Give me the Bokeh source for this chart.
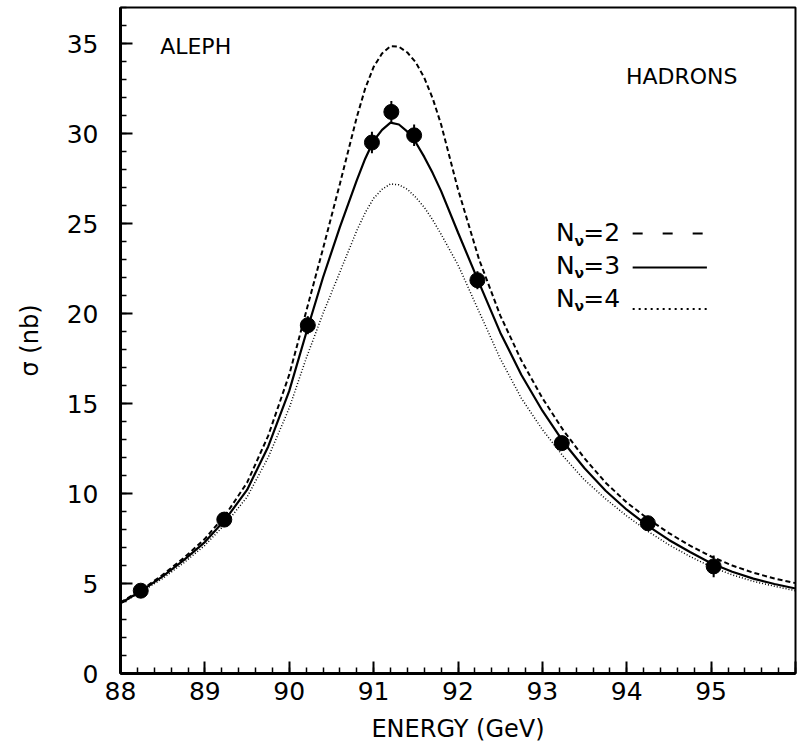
from bokeh.plotting import figure
from bokeh.models import Range1d, SingleIntervalTicker, Label
from bokeh.embed import file_html
from bokeh.resources import INLINE

# ---- data ----
energy = [88.0, 88.25, 88.5, 88.75, 89.0, 89.25, 89.5, 89.75, 90.0, 90.2, 90.4, 90.6,
          90.8, 90.9, 91.0, 91.1, 91.2, 91.3, 91.4, 91.5, 91.6, 91.7, 91.8, 92.0,
          92.25, 92.5, 92.75, 93.0, 93.25, 93.5, 93.75, 94.0, 94.25, 94.5, 94.75,
          95.0, 95.25, 95.5, 95.75, 96.0]

sigma_nu2 = [3.95, 4.65, 5.48, 6.42, 7.48, 8.85, 10.6, 13.2, 16.6, 20.1, 23.6, 27.2,
             30.9, 32.5, 33.7, 34.45, 34.85, 34.82, 34.5, 33.95, 33.1, 31.95, 30.5, 26.9,
             23.0, 19.9, 17.4, 15.3, 13.5, 11.95, 10.6, 9.5, 8.6, 7.8, 7.1,
             6.5, 6.0, 5.6, 5.28, 5.02]

sigma_nu3 = [3.9, 4.6, 5.4, 6.3, 7.3, 8.6, 10.2, 12.6, 15.7, 18.9, 22.0, 24.8,
             27.4, 28.6, 29.6, 30.2, 30.6, 30.5, 30.1, 29.5, 28.7, 27.8, 26.8, 24.5,
             21.7, 18.95, 16.6, 14.6, 12.85, 11.4, 10.15, 9.1, 8.2, 7.42, 6.75,
             6.12, 5.65, 5.27, 4.97, 4.72]

sigma_nu4 = [3.87, 4.55, 5.28, 6.15, 7.12, 8.35, 9.8, 12.0, 14.75, 17.5, 20.0, 22.3,
             24.6, 25.6, 26.4, 26.9, 27.2, 27.15, 26.9, 26.45, 25.9, 25.2, 24.4, 22.7,
             20.1, 17.5, 15.3, 13.55, 12.05, 10.75, 9.7, 8.75, 7.9, 7.15, 6.5,
             5.93, 5.48, 5.12, 4.85, 4.6]

pt_energy = [88.24, 89.23, 90.22, 90.98, 91.21, 91.48, 92.23, 93.23, 94.25, 95.03]
pt_sigma = [4.6, 8.55, 19.35, 29.5, 31.2, 29.9, 21.85, 12.8, 8.35, 5.95]
pt_err = [0.3, 0.35, 0.5, 0.6, 0.6, 0.6, 0.5, 0.4, 0.4, 0.6]

legend_labels = ["2", "3", "4"]

FONT = "DejaVu Sans"

p = figure(width=807, height=752, output_backend="svg", toolbar_location=None,
           x_range=Range1d(88, 96), y_range=Range1d(0, 37),
           min_border_left=120, min_border_right=12, min_border_top=7, min_border_bottom=79)
p.background_fill_color = "white"
p.border_fill_color = "white"
p.outline_line_color = "black"
p.outline_line_width = 2
p.xgrid.visible = False
p.ygrid.visible = False

# curves
p.line(energy, sigma_nu2, line_color="black", line_width=2, line_dash="5 3")
p.line(energy, sigma_nu3, line_color="black", line_width=2.2)
p.line(energy, sigma_nu4, line_color="black", line_width=1.5, line_dash="1 2")

# data points with error bars
p.segment(x0=pt_energy, y0=[s - e for s, e in zip(pt_sigma, pt_err)],
          x1=pt_energy, y1=[s + e for s, e in zip(pt_sigma, pt_err)],
          line_color="black", line_width=2)
p.scatter(pt_energy, pt_sigma, size=15, color="black")

# axes
for ax in (p.xaxis[0], p.yaxis[0]):
    ax.axis_line_width = 3
    ax.major_tick_in = 12
    ax.major_tick_out = 0
    ax.minor_tick_in = 6
    ax.minor_tick_out = 0
    ax.major_tick_line_width = 2
    ax.minor_tick_line_width = 1.5
    ax.major_label_text_font = FONT
    ax.major_label_text_font_size = "25px"
    ax.major_label_text_color = "black"
    ax.axis_label_text_font = FONT
    ax.axis_label_text_font_size = "24px"
    ax.axis_label_text_font_style = "normal"
    ax.axis_label_text_color = "black"

p.xaxis.ticker = SingleIntervalTicker(interval=1, num_minor_ticks=5)
p.yaxis.ticker = SingleIntervalTicker(interval=5, num_minor_ticks=5)
p.xaxis.major_label_overrides = {96: ""}
p.xaxis.major_label_standoff = 8
p.yaxis.major_label_standoff = 22
p.xaxis.axis_label = "ENERGY (GeV)"
p.yaxis.axis_label = "σ (nb)"
p.xaxis.axis_label_standoff = 12
p.yaxis.axis_label_standoff = 20

# texts
p.add_layout(Label(x=88.47, y=34.83, text="ALEPH", text_font=FONT, text_font_size="22px",
                   text_baseline="middle", text_align="left", text_color="black"))
p.add_layout(Label(x=93.99, y=33.17, text="HADRONS", text_font=FONT, text_font_size="22px",
                   text_baseline="middle", text_align="left", text_color="black"))

# key: text rows and sample lines
row_y = [24.5, 22.68, 20.85]
key_line_y = [24.45, 22.55, 20.25]
key_dash = ["10 20", "solid", "2 4"]
key_x0, key_x1 = 94.07, 94.95
for lab, yy, ly, dash in zip(legend_labels, row_y, key_line_y, key_dash):
    p.add_layout(Label(x=93.16, y=yy, text="N", text_font=FONT, text_font_size="25px",
                       text_baseline="middle", text_color="black"))
    p.add_layout(Label(x=93.38, y=yy - 0.45, text="ν", text_font=FONT, text_font_size="14px",
                       text_font_style="bold", text_baseline="middle", text_color="black"))
    p.add_layout(Label(x=93.485, y=yy, text="=" + lab, text_font=FONT, text_font_size="25px",
                       text_baseline="middle", text_color="black"))
    p.segment(x0=[key_x0], y0=[ly], x1=[key_x1], y1=[ly], line_color="black",
              line_width=2, line_dash=dash)

open("out.html", "w").write(file_html(p, INLINE))
